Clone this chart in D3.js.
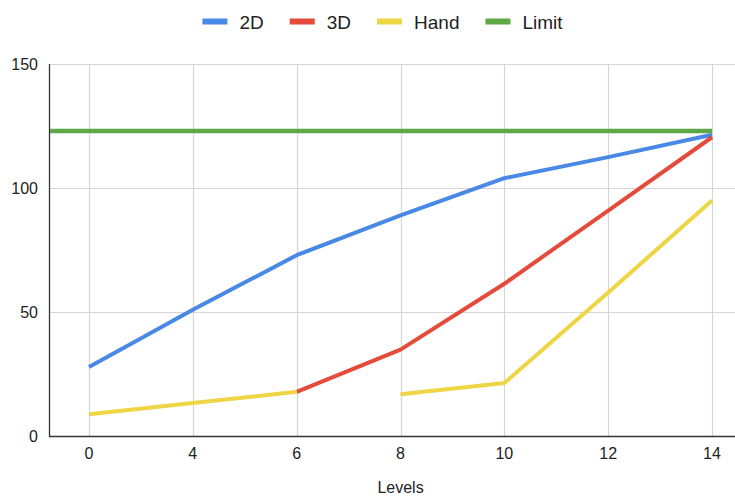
<!DOCTYPE html>
<html>
<head>
<meta charset="utf-8">
<script src="https://cdn.jsdelivr.net/npm/d3@7"></script>
<style>
  html, body { margin: 0; padding: 0; background: #fff; }
  svg { display: block; font-family: "Liberation Sans", Arial, Helvetica, sans-serif; }
</style>
</head>
<body>
<svg id="chart" width="735" height="496"></svg>
<script>
// Levels along the x axis (categorical)
const levels = ["0", "4", "6", "8", "10", "12", "14"];

// Series values per level (null = no reading)
const values2D   = [28, 51, 73, 89, 104, 112.5, 121.5];
const values3D   = [null, null, 18, 35, 61.5, 91, 120.5];
const valuesHand = [9, 13.5, 18, 17, 21.5, 58, 95];
// The Hand trace was recorded in two separate runs: it breaks after this level
const handBreakAfter = "6";
const limitValue = 123;

const yTicks = [0, 50, 100, 150];

const seriesNames  = ["2D", "3D", "Hand", "Limit"];
const seriesColors = ["#4a88e5", "#e44b3b", "#eed543", "#5ea947"];

const svg = d3.select("#chart");
const W = 735, H = 496;
const plot = { left: 49, right: 752, top: 64, bottom: 436.5 };

const x = d3.scalePoint().domain(levels).range([plot.left, plot.right]).padding(0.385);
const y = d3.scaleLinear().domain([0, 150]).range([plot.bottom, plot.top]);

// Gridlines
const grid = svg.append("g");
grid.selectAll("line.h").data(yTicks.filter(t => t > 0)).join("line")
  .attr("x1", plot.left).attr("x2", W)
  .attr("y1", d => Math.round(y(d)) + 0.5).attr("y2", d => Math.round(y(d)) + 0.5)
  .attr("stroke", "#d6d6d6").attr("stroke-width", 1.2);
grid.selectAll("line.v").data(levels).join("line")
  .attr("x1", d => Math.round(x(d)) + 0.5).attr("x2", d => Math.round(x(d)) + 0.5)
  .attr("y1", plot.top).attr("y2", plot.bottom)
  .attr("stroke", "#d6d6d6").attr("stroke-width", 1.2);

// Axes lines
svg.append("line")
  .attr("x1", plot.left + 0.5).attr("x2", plot.left + 0.5)
  .attr("y1", plot.top).attr("y2", plot.bottom + 0.5)
  .attr("stroke", "#333").attr("stroke-width", 1.3);
svg.append("line")
  .attr("x1", plot.left).attr("x2", W)
  .attr("y1", plot.bottom).attr("y2", plot.bottom)
  .attr("stroke", "#333").attr("stroke-width", 1.3);

// Tick labels
svg.append("g").selectAll("text").data(yTicks).join("text")
  .attr("x", 38).attr("y", d => y(d)).attr("dy", "0.36em")
  .attr("text-anchor", "end").attr("font-size", 16).attr("fill", "#222")
  .text(d => d);
svg.append("g").selectAll("text").data(levels).join("text")
  .attr("x", d => x(d)).attr("y", 459)
  .attr("text-anchor", "middle").attr("font-size", 16).attr("fill", "#222")
  .text(d => d);

// Axis title
svg.append("text")
  .attr("x", (x(levels[0]) + x(levels[levels.length - 1])) / 2).attr("y", 493)
  .attr("text-anchor", "middle").attr("font-size", 16).attr("fill", "#222")
  .text("Levels");

// Lines
const line = d3.line()
  .defined(d => d.v !== null)
  .x(d => x(d.level))
  .y(d => y(d.v));

function pts(vals) { return levels.map((l, i) => ({ level: l, v: vals[i] })); }

const lines = svg.append("g")
  .attr("fill", "none").attr("stroke-width", 4)
  .attr("stroke-linejoin", "round").attr("stroke-linecap", "butt");

lines.append("path").attr("d", line(pts(values2D))).attr("stroke", seriesColors[0]);
lines.append("path").attr("d", line(pts(values3D))).attr("stroke", seriesColors[1]);

const breakIdx = levels.indexOf(handBreakAfter);
const handPts = pts(valuesHand);
[handPts.slice(0, breakIdx + 1), handPts.slice(breakIdx + 1)].forEach(run => {
  lines.append("path").attr("d", line(run)).attr("stroke", seriesColors[2]);
});

// Limit: flat reference line from the axis to the last level
lines.append("path")
  .attr("d", d3.line()([[plot.left + 1, y(limitValue)], [x(levels[levels.length - 1]), y(limitValue)]]))
  .attr("stroke", seriesColors[3]).attr("stroke-width", 4.5);

// Legend
const legend = svg.append("g");
let cx = 0;
const items = [];
seriesNames.forEach((name, i) => {
  const g = legend.append("g").attr("transform", `translate(${cx},0)`);
  g.append("rect").attr("x", 0).attr("y", 18.5).attr("width", 25).attr("height", 6)
    .attr("fill", seriesColors[i]);
  const t = g.append("text").attr("x", 37).attr("y", 29)
    .attr("font-size", 19).attr("fill", "#222").text(name);
  const w = t.node().getComputedTextLength();
  cx += 37 + w + 26;
});
const legendWidth = cx - 26;
legend.attr("transform", `translate(${382.5 - legendWidth / 2},0)`);
</script>
</body>
</html>
